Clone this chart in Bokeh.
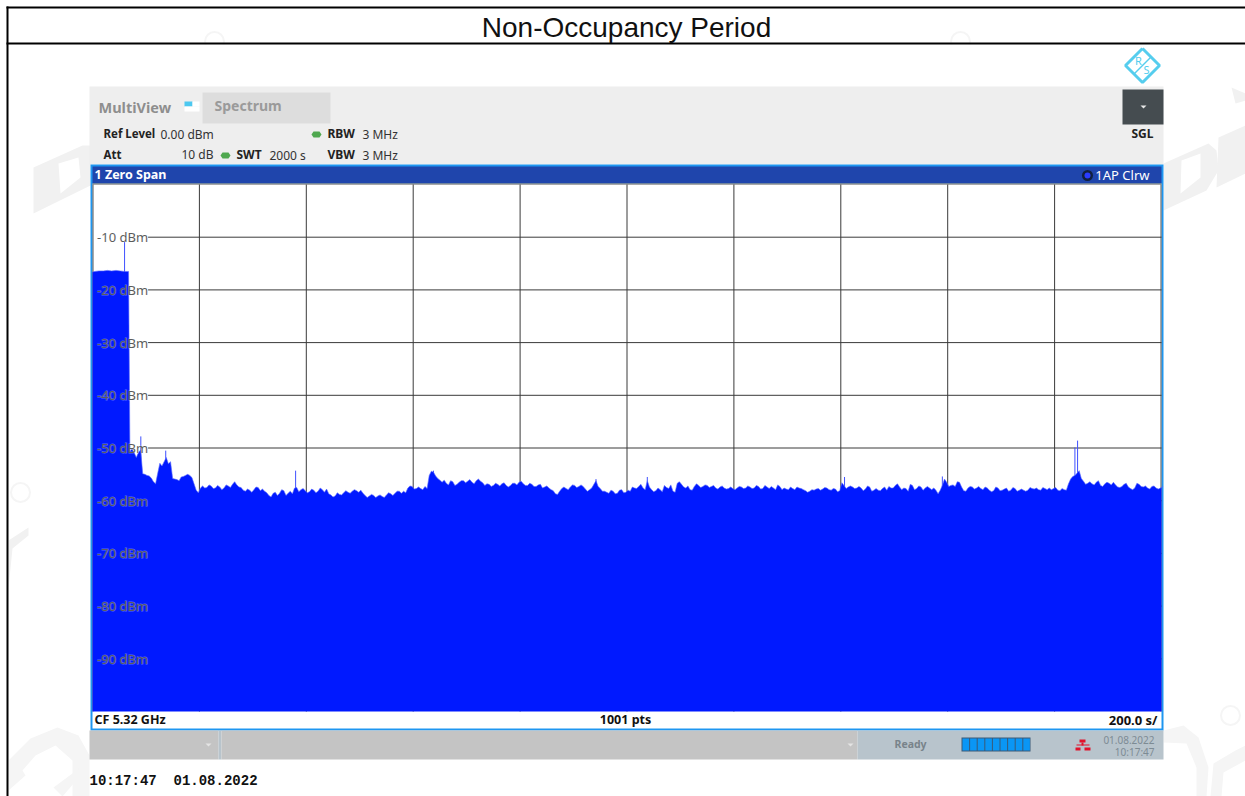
from bokeh.plotting import figure
from bokeh.core.properties import value
from bokeh.models import Range1d
from bokeh.embed import file_html
from bokeh.resources import INLINE

W, H = 1245, 796

# --- chart content ---
title_text = "Non-Occupancy Period"
y_ticks = [-10, -20, -30, -40, -50, -60, -70, -80, -90]
y_tick_labels = [f"{t} dBm" for t in y_ticks]
x_ticks = [200, 400, 600, 800, 1000, 1200, 1400, 1600, 1800]

burst_t = [0, 4, 12, 20, 28, 36, 44, 52, 60, 66, 67.5]
burst_dbm = [-16.6, -16.5, -16.4, -16.4, -16.3, -16.4, -16.3, -16.4, -16.5, -16.5, -16.5]

start_t = 70
half_step_t = 4
trace_a = [-50.6, -50.9, -50.8, -54.9, -55.2, -55.7, -56.8, -52.9, -52.6, -53.0,
           -55.8, -56.0, -55.5, -55.2, -55.2, -56.8, -58.5, -57.2, -57.5, -57.2,
           -57.6, -57.4, -57.6, -57.2, -56.9, -57.0, -57.5, -58.2, -58.0, -57.9,
           -57.5, -57.8, -58.5, -59.3, -58.4, -58.6, -58.1, -58.6, -58.7, -57.5,
           -57.9, -58.1, -58.3, -58.0, -58.2, -57.9, -57.8, -58.9, -59.1, -58.8,
           -58.5, -58.4, -58.2, -58.1, -58.0, -59.0, -59.1, -59.0, -59.1, -59.2,
           -58.9, -58.7, -58.6, -58.2]
trace_a_mid = [-50.2, -51.8, -50.4, -55.0, -55.3, -56.4, -54.8, -53.4, -51.8, -52.6,
               -55.9, -56.2, -55.4, -55.0, -55.6, -58.0, -57.6, -57.6, -57.0, -57.7,
               -57.1, -57.9, -57.0, -57.5, -56.4, -57.4, -58.0, -57.8, -58.4, -57.4,
               -58.1, -58.2, -59.0, -58.6, -59.0, -57.9, -59.0, -58.2, -57.6, -58.3,
               -57.7, -58.5, -57.8, -58.5, -57.6, -58.4, -58.7, -59.3, -58.5, -58.9,
               -58.1, -58.6, -57.9, -58.4, -58.6, -59.4, -58.8, -59.4, -58.9, -59.4,
               -58.5, -59.0, -58.2, -58.6]
trace_b = [-58.2, -57.6, -57.3, -57.7, -57.7, -57.3, -55.2, -54.6, -55.8, -56.5,
           -56.7, -56.2, -57.1, -56.5, -56.2, -56.3, -56.5, -56.2, -56.3, -57.1,
           -56.9, -57.1, -56.9, -56.8, -57.1, -57.1, -56.7, -56.5, -56.8, -57.1,
           -56.9, -57.3, -56.9, -57.4, -57.6, -58.1, -58.8, -57.7, -57.7, -57.4,
           -57.1, -57.3, -57.3, -58.2, -57.6, -56.2, -57.7, -58.2, -58.6, -58.2,
           -58.6, -57.9, -58.4, -58.2, -57.6, -57.3, -57.6, -56.2, -57.9, -58.1,
           -57.9, -57.1, -57.7, -58.2, -56.7, -56.9, -57.6, -57.9, -57.3, -57.1,
           -57.3, -57.1, -57.3, -57.6, -57.4, -57.6, -57.7, -57.7, -57.6, -57.4,
           -57.6, -57.4, -57.6, -57.3, -57.7, -57.4, -57.3, -57.9, -57.3, -57.6,
           -57.9, -57.7, -57.4]
trace_b_mid = [-58.5, -57.2, -57.8, -57.4, -57.9, -57.7, -54.4, -55.3, -56.1, -56.1,
               -57.0, -56.4, -56.9, -56.2, -56.6, -56.0, -56.8, -55.9, -56.6, -56.8,
               -57.3, -56.7, -57.2, -56.6, -57.4, -56.7, -57.0, -56.3, -57.1, -56.7,
               -57.3, -57.0, -57.6, -57.2, -57.9, -58.7, -58.2, -57.4, -57.9, -57.0,
               -57.5, -57.0, -57.8, -57.9, -56.9, -57.3, -58.2, -58.4, -58.0, -58.7,
               -58.0, -58.5, -58.0, -57.4, -57.7, -56.9, -57.9, -57.4, -58.3, -57.6,
               -58.3, -57.5, -57.0, -58.4, -56.4, -57.4, -57.2, -58.0, -56.8, -57.5,
               -57.0, -57.5, -57.1, -57.8, -57.2, -57.8, -57.4, -57.9, -57.3, -57.7,
               -57.2, -57.7, -57.1, -57.8, -57.1, -57.7, -57.6, -57.0, -57.9, -57.8,
               -57.4, -57.9, -57.6]
trace_c = [-57.7, -58.1, -58.2, -58.0, -57.7, -57.8, -57.6, -58.0, -57.8, -58.1,
           -57.1, -57.4, -57.4, -57.6, -57.6, -57.8, -57.4, -58.0, -58.0, -57.7,
           -58.0, -57.6, -57.1, -57.4, -57.6, -58.2, -57.1, -57.7, -57.4, -57.6,
           -57.6, -57.6, -58.7, -57.1, -56.5, -57.1, -57.3, -56.5, -58.1, -57.6,
           -57.4, -57.6, -57.7, -57.4, -58.0, -58.1, -57.6, -58.0, -57.6, -58.0,
           -57.7, -58.0, -58.0, -58.0, -57.7, -57.6, -58.0, -57.7, -57.6, -57.7,
           -58.0, -57.7, -58.0, -55.9, -55.2, -54.3, -56.3, -56.7, -56.8, -56.5,
           -57.1, -56.8, -56.7, -56.5, -57.4, -57.3, -56.7, -57.7, -57.6, -56.9,
           -57.4, -57.6, -57.3, -57.6, -57.6]
trace_c_mid = [-57.9, -58.4, -57.9, -57.8, -58.0, -57.5, -57.9, -57.7, -58.3, -56.6,
               -57.7, -57.2, -57.7, -57.3, -58.1, -57.2, -58.2, -57.7, -58.1, -57.4,
               -57.3, -57.6, -56.8, -57.9, -57.7, -56.9, -57.9, -57.2, -58.0, -57.3,
               -57.9, -58.0, -58.0, -55.9, -57.3, -57.0, -56.4, -57.4, -58.2, -57.3,
               -57.8, -57.3, -57.9, -57.6, -58.3, -57.4, -58.1, -57.8, -58.2, -57.5,
               -58.2, -57.8, -58.2, -57.5, -57.8, -57.9, -57.5, -57.9, -57.9, -57.5,
               -58.1, -57.9, -56.8, -55.4, -54.8, -55.8, -56.9, -56.4, -57.0, -56.2,
               -57.3, -56.5, -57.0, -57.0, -57.5, -56.9, -57.4, -57.9, -56.7, -57.3,
               -57.2, -57.8, -57.2, -57.8, -57.3]
end_t = [2000]
end_dbm = [-57.6]

spike_t = [60, 90.4, 137, 380, 638, 942, 1038, 1407, 1590, 1838, 1843]
spike_top = [-10.9, -47.8, -50.5, -54.3, -54.3, -55.9, -55.5, -55.5, -55.4, -49.9, -48.6]

# --- page geometry ---
X0, X1, Y0, Y1 = 92, 1161, 184, 711
T_SPAN, DB_SPAN = 2000, 100
FONT = "Noto Sans"
px_t = T_SPAN / (X1 - X0)
px_db = DB_SPAN / (Y1 - Y0)

p = figure(width=W, height=H, output_backend="svg", toolbar_location=None,
           x_range=Range1d(0, W), y_range=Range1d(H, 0),
           x_axis_type=None, y_axis_type=None,
           min_border=0, background_fill_color="white", border_fill_color="white", outline_line_color=None)
p.grid.visible = False
p.extra_x_ranges = {"time": Range1d(-X0 * px_t, (W - X0) * px_t)}
p.extra_y_ranges = {"dbm": Range1d(-(H - Y0) * px_db, Y0 * px_db)}


def poly(xs, ys, color):
    p.patch(xs, ys, fill_color=color, line_color=None)


def box(x0, y0, x1, y1, color):
    p.quad(left=[x0], right=[x1], top=[y0], bottom=[y1], fill_color=color, line_color=None)


def txt(x, y, s, size=12, color="#222222", bold=False, align="left", font=FONT, dy=-1):
    p.text(x=[x], y=[y + dy], text=[s], text_font=value(font), text_font_size=value(f"{size}px"),
           text_font_style="bold" if bold else "normal",
           text_color=color, text_align=align, text_baseline="middle")


# faint watermarks
WM = "#f1f1f1"
poly([33, 82, 90, 90, 33], [167, 145, 145, 185, 213], WM)
poly([58, 78, 80, 60], [163, 157, 177, 193], "#ffffff")
poly([1163, 1208, 1216, 1218, 1206, 1163], [163, 143, 150, 170, 190, 210], WM)
poly([1181, 1200, 1200, 1180], [160, 153, 177, 193], "#ffffff")
poly([1218, 1245, 1245, 1216], [137, 125, 173, 187], WM)
poly([1231, 1245, 1245, 1235], [87, 93, 100, 103], WM)
poly([8, 28, 28, 12, 8], [540, 527, 535, 548, 588], WM)
poly([8, 30, 57, 78, 89, 89, 72, 72, 55, 35, 22, 25, 8],
     [760, 738, 727, 735, 755, 796, 796, 760, 745, 755, 770, 775, 790], "#f5f5f5")
poly([53, 80, 80, 62], [787, 767, 775, 796], "#f5f5f5")
poly([1163, 1183, 1198, 1208, 1206, 1196, 1196, 1186, 1163],
     [730, 725, 737, 767, 796, 796, 767, 743, 742], "#f5f5f5")
poly([1235, 1245, 1245, 1223, 1221, 1210, 1213], [750, 745, 760, 772, 796, 796, 763], "#f5f5f5")
rings_x = [214, 960, 20, 1230]
rings_y = [41, 41, 492, 715]
p.scatter(rings_x, rings_y, size=19, marker="circle", fill_color=None, line_color="#f5f5f5", line_width=2)
box(200, 44, 230, 54, "#ffffff")
box(946, 44, 976, 54, "#ffffff")

# table frame of the page
box(6, 6, 1245, 8, "#000000")
box(6, 42, 1245, 44, "#000000")
box(6, 6, 8, 796, "#000000")
txt(626, 27, title_text, size=28, color="#111111", align="center", font="Liberation Sans", dy=0)

# instrument chrome
box(89, 86, 1163, 164, "#eeeeee")
box(202, 92, 330, 123, "#dddddd")
box(1122, 89, 1163, 124, "#454c50")
poly([1140, 1146, 1143], [105, 105, 108], "#e8e8e8")
txt(98, 107, "MultiView", 14.5, "#8e8e8e", True)
box(184, 101, 192, 106, "#4cc8f0")
box(192, 101, 199, 106, "#ffffff")
box(184, 106, 199, 111, "#ffffff")
txt(214, 106, "Spectrum", 14, "#9a9a9a", True)
txt(1142, 134, "SGL", 12, "#222222", True, "center")
txt(103, 134, "Ref Level", 11.5, "#222222", True)
txt(160, 135, "0.00 dBm", 12, "#333333")
txt(327, 134, "RBW", 12, "#222222", True)
txt(362, 135, "3 MHz", 12, "#333333")
txt(103, 155, "Att", 11.5, "#222222", True)
txt(181, 155, "10 dB", 12, "#333333")
txt(236, 155, "SWT", 12, "#222222", True)
txt(269, 156, "2000 s", 12, "#333333")
txt(327, 155, "VBW", 12, "#222222", True)
txt(362, 156, "3 MHz", 12, "#333333")
for cx, cy in [(316, 134), (225, 155)]:
    poly([cx - 5, cx - 3, cx + 3, cx + 5, cx + 3, cx - 3], [cy, cy - 3, cy - 3, cy, cy + 3, cy + 3], "#4fa84f")

# logo
LOGO = "#55cdee"
p.line([1142, 1159, 1142, 1125, 1142], [48, 65, 82, 65, 48], line_color=LOGO, line_width=3)
p.line([1133.5, 1150.5], [73.5, 56.5], line_color=LOGO, line_width=1.5)
txt(1138, 61, "R", 11, LOGO, False, "center")
txt(1146, 70, "S", 11, LOGO, False, "center")

# diagram header and border
box(90, 164, 1163, 730, "#1e96f0")
box(92, 166, 1161, 183, "#1f45ac")
box(92, 183, 1161, 728, "#ffffff")
box(92, 183, 1161, 184, "#555555")
box(92, 184, 93, 711, "#555555")
box(1160, 184, 1161, 711, "#555555")
txt(94, 175, "1 Zero Span", 12.5, "#ffffff", True)
txt(1149, 175, "1AP Clrw", 13, "#ffffff", False, "right")
p.scatter([1087], [175], size=11, marker="circle", fill_color="#102040", line_color=None)
p.scatter([1087], [175], size=6, marker="circle", fill_color="#2a3cff", line_color=None)
txt(94, 720, "CF 5.32 GHz", 12.5, "#111111", True)
txt(625, 720, "1001 pts", 12.5, "#111111", True, "center")
txt(1157, 720, "200.0 s/", 13, "#111111", True, "right")

# grid, trace and level labels on the chart's own scales
SCALE = dict(x_range_name="time", y_range_name="dbm")
GRID = "#3a3a3a"
p.segment(x0=x_ticks, x1=x_ticks, y0=[-DB_SPAN] * len(x_ticks), y1=[0] * len(x_ticks),
          line_color=GRID, line_width=1, **SCALE)
p.segment(x0=[104] * len(y_ticks), x1=[T_SPAN] * len(y_ticks), y0=y_ticks, y1=y_ticks,
          line_color=GRID, line_width=1, **SCALE)
p.segment(x0=spike_t, x1=spike_t, y0=[-65] * len(spike_t), y1=spike_top, line_color="#3f50ff", line_width=1, **SCALE)

main = trace_a + trace_b + trace_c
mids = trace_a_mid + trace_b_mid + trace_c_mid
trace_t = list(burst_t)
trace_y = list(burst_dbm)
for i, (v, m) in enumerate(zip(main, mids)):
    trace_t += [start_t + 2 * half_step_t * i, start_t + 2 * half_step_t * i + half_step_t]
    trace_y += [v, m]
trace_t += end_t
trace_y += end_dbm
p.varea(x=trace_t, y1=[-DB_SPAN] * len(trace_t), y2=trace_y, fill_color="#0019ff", **SCALE)
p.line(x=trace_t, y=trace_y, line_color="#5a6aff", line_width=1, line_alpha=0.6, **SCALE)

p.text(x=[104] * len(y_ticks), y=y_ticks, text=y_tick_labels, text_font=value(FONT), text_font_size=value("13px"),
       text_color="#111111", text_align="right", text_baseline="middle",
       text_outline_color="#ffffff55", **SCALE)

# status bar
box(89, 730, 218, 759, "#c4c4c4")
box(218, 730, 221, 759, "#b8c4cc")
box(221, 730, 857, 759, "#c4c4c4")
box(857, 730, 1163, 759, "#b8c4cc")
poly([205, 211, 208], [743, 743, 746], "#e4e4e4")
poly([847, 853, 850], [743, 743, 746], "#e4e4e4")
txt(894, 744, "Ready", 10.5, "#78838a", True)
box(961, 737, 1030, 751, "#3a5a78")
for i in range(9):
    box(962 + i * 7.6, 738, 968.6 + i * 7.6, 750, "#0a96f5")
txt(1154, 739, "01.08.2022", 10, "#7d8b94", False, "right", dy=0)
txt(1154, 751, "10:17:47", 10, "#7d8b94", False, "right", dy=0)
box(1079, 739, 1085, 742, "#e0142c")
box(1075, 747, 1080, 750, "#e0142c")
box(1084, 747, 1090, 750, "#e0142c")
box(1081, 742, 1083, 745, "#e0142c")
box(1076, 744, 1089, 745, "#e0142c")

txt(89, 780, "10:17:47 \u00a001.08.2022", 14, "#111111", True, "left", "Liberation Mono", dy=0)

open("out.html", "w").write(file_html(p, INLINE))
